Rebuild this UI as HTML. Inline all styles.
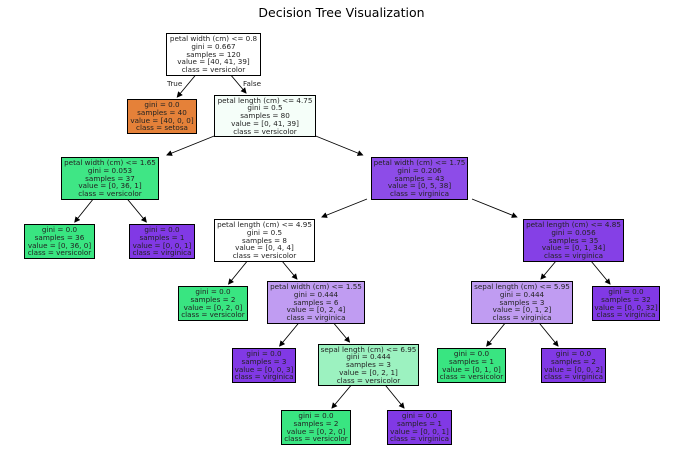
<!DOCTYPE html>
<html><head><meta charset="utf-8"><style>
body{margin:0;width:683px;height:465px;background:#fff;position:relative;overflow:hidden;font-family:"DejaVu Sans","Liberation Sans",sans-serif}
.n{position:absolute;box-sizing:border-box;border:1px solid #000;display:flex;flex-direction:column;justify-content:center;align-items:center;font-size:7.2px;line-height:7.7px;color:#222;white-space:nowrap;text-align:center}
.w{background:#fff}.o{background:#e58139}.g{background:#39e581}.p{background:#8139e5}
svg{position:absolute;left:0;top:0}
.t{position:absolute;font-size:12.5px;color:#000;width:683px;text-align:center;top:5px}
.l{position:absolute;font-size:7.2px;color:#222}
</style></head><body>
<div class="t">Decision Tree Visualization</div>
<svg width="683" height="465" stroke="#000" stroke-width="0.9">
<defs><marker id="a" markerWidth="6" markerHeight="6" refX="5" refY="3" orient="auto" markerUnits="userSpaceOnUse"><path d="M0,0L6,3L0,6z" fill="#000" stroke="none"/></marker></defs>
<g marker-end="url(#a)">
<line x1="195.6" y1="75" x2="177.3" y2="97"/>
<line x1="230.8" y1="75" x2="246" y2="93"/>
<line x1="214.2" y1="136" x2="167" y2="155"/>
<line x1="315.7" y1="136" x2="362.6" y2="155"/>
<line x1="93.2" y1="199" x2="74.8" y2="222"/>
<line x1="127.3" y1="199" x2="146.3" y2="222"/>
<line x1="367" y1="199" x2="322" y2="217"/>
<line x1="472" y1="199" x2="516.8" y2="217"/>
<line x1="247.3" y1="261" x2="228.6" y2="284"/>
<line x1="282" y1="261" x2="296.9" y2="279"/>
<line x1="556" y1="261" x2="541" y2="279"/>
<line x1="591" y1="261" x2="610" y2="284"/>
<line x1="298.7" y1="323" x2="279.7" y2="346"/>
<line x1="333.6" y1="323" x2="349.5" y2="342"/>
<line x1="505.2" y1="323" x2="486.7" y2="346"/>
<line x1="539.2" y1="323" x2="558" y2="346"/>
<line x1="351.3" y1="385" x2="332" y2="408"/>
<line x1="385.2" y1="385" x2="404" y2="408"/>
</g></svg>
<div class="l" style="left:167px;top:79px">True</div>
<div class="l" style="left:243px;top:79px">False</div>

<div class="n w" style="left:166px;top:33px;width:95px;height:43px">petal width (cm) &lt;= 0.8<br>gini = 0.667<br>samples = 120<br>value = [40, 41, 39]<br>class = versicolor</div>
<div class="n o" style="left:127px;top:99px;width:70px;height:35px">gini = 0.0<br>samples = 40<br>value = [40, 0, 0]<br>class = setosa</div>
<div class="n" style="left:214px;top:95px;width:102px;height:42px;background:#f5fef9">petal length (cm) &lt;= 4.75<br>gini = 0.5<br>samples = 80<br>value = [0, 41, 39]<br>class = versicolor</div>
<div class="n" style="left:61px;top:157px;width:98px;height:43px;background:#3fe685">petal width (cm) &lt;= 1.65<br>gini = 0.053<br>samples = 37<br>value = [0, 36, 1]<br>class = versicolor</div>
<div class="n" style="left:371px;top:157px;width:97px;height:43px;background:#8d4ce8">petal width (cm) &lt;= 1.75<br>gini = 0.206<br>samples = 43<br>value = [0, 5, 38]<br>class = virginica</div>
<div class="n g" style="left:24px;top:224px;width:71px;height:35px">gini = 0.0<br>samples = 36<br>value = [0, 36, 0]<br>class = versicolor</div>
<div class="n p" style="left:129px;top:224px;width:66px;height:35px">gini = 0.0<br>samples = 1<br>value = [0, 0, 1]<br>class = virginica</div>
<div class="n w" style="left:214px;top:219px;width:101px;height:43px">petal length (cm) &lt;= 4.95<br>gini = 0.5<br>samples = 8<br>value = [0, 4, 4]<br>class = versicolor</div>
<div class="n" style="left:523px;top:219px;width:101px;height:43px;background:#8540e6">petal length (cm) &lt;= 4.85<br>gini = 0.056<br>samples = 35<br>value = [0, 1, 34]<br>class = virginica</div>
<div class="n g" style="left:178px;top:286px;width:70px;height:35px">gini = 0.0<br>samples = 2<br>value = [0, 2, 0]<br>class = versicolor</div>
<div class="n" style="left:267px;top:281px;width:98px;height:43px;background:#c09cf2">petal width (cm) &lt;= 1.55<br>gini = 0.444<br>samples = 6<br>value = [0, 2, 4]<br>class = virginica</div>
<div class="n" style="left:471px;top:281px;width:102px;height:43px;background:#c09cf2">sepal length (cm) &lt;= 5.95<br>gini = 0.444<br>samples = 3<br>value = [0, 1, 2]<br>class = virginica</div>
<div class="n p" style="left:592px;top:286px;width:68px;height:35px">gini = 0.0<br>samples = 32<br>value = [0, 0, 32]<br>class = virginica</div>
<div class="n p" style="left:232px;top:348px;width:64px;height:35px">gini = 0.0<br>samples = 3<br>value = [0, 0, 3]<br>class = virginica</div>
<div class="n" style="left:318px;top:344px;width:101px;height:42px;background:#9cf2c0">sepal length (cm) &lt;= 6.95<br>gini = 0.444<br>samples = 3<br>value = [0, 2, 1]<br>class = versicolor</div>
<div class="n g" style="left:437px;top:348px;width:69px;height:35px">gini = 0.0<br>samples = 1<br>value = [0, 1, 0]<br>class = versicolor</div>
<div class="n p" style="left:541px;top:348px;width:65px;height:35px">gini = 0.0<br>samples = 2<br>value = [0, 0, 2]<br>class = virginica</div>
<div class="n g" style="left:281px;top:410px;width:70px;height:35px">gini = 0.0<br>samples = 2<br>value = [0, 2, 0]<br>class = versicolor</div>
<div class="n p" style="left:387px;top:410px;width:65px;height:35px">gini = 0.0<br>samples = 1<br>value = [0, 0, 1]<br>class = virginica</div>
</body></html>
